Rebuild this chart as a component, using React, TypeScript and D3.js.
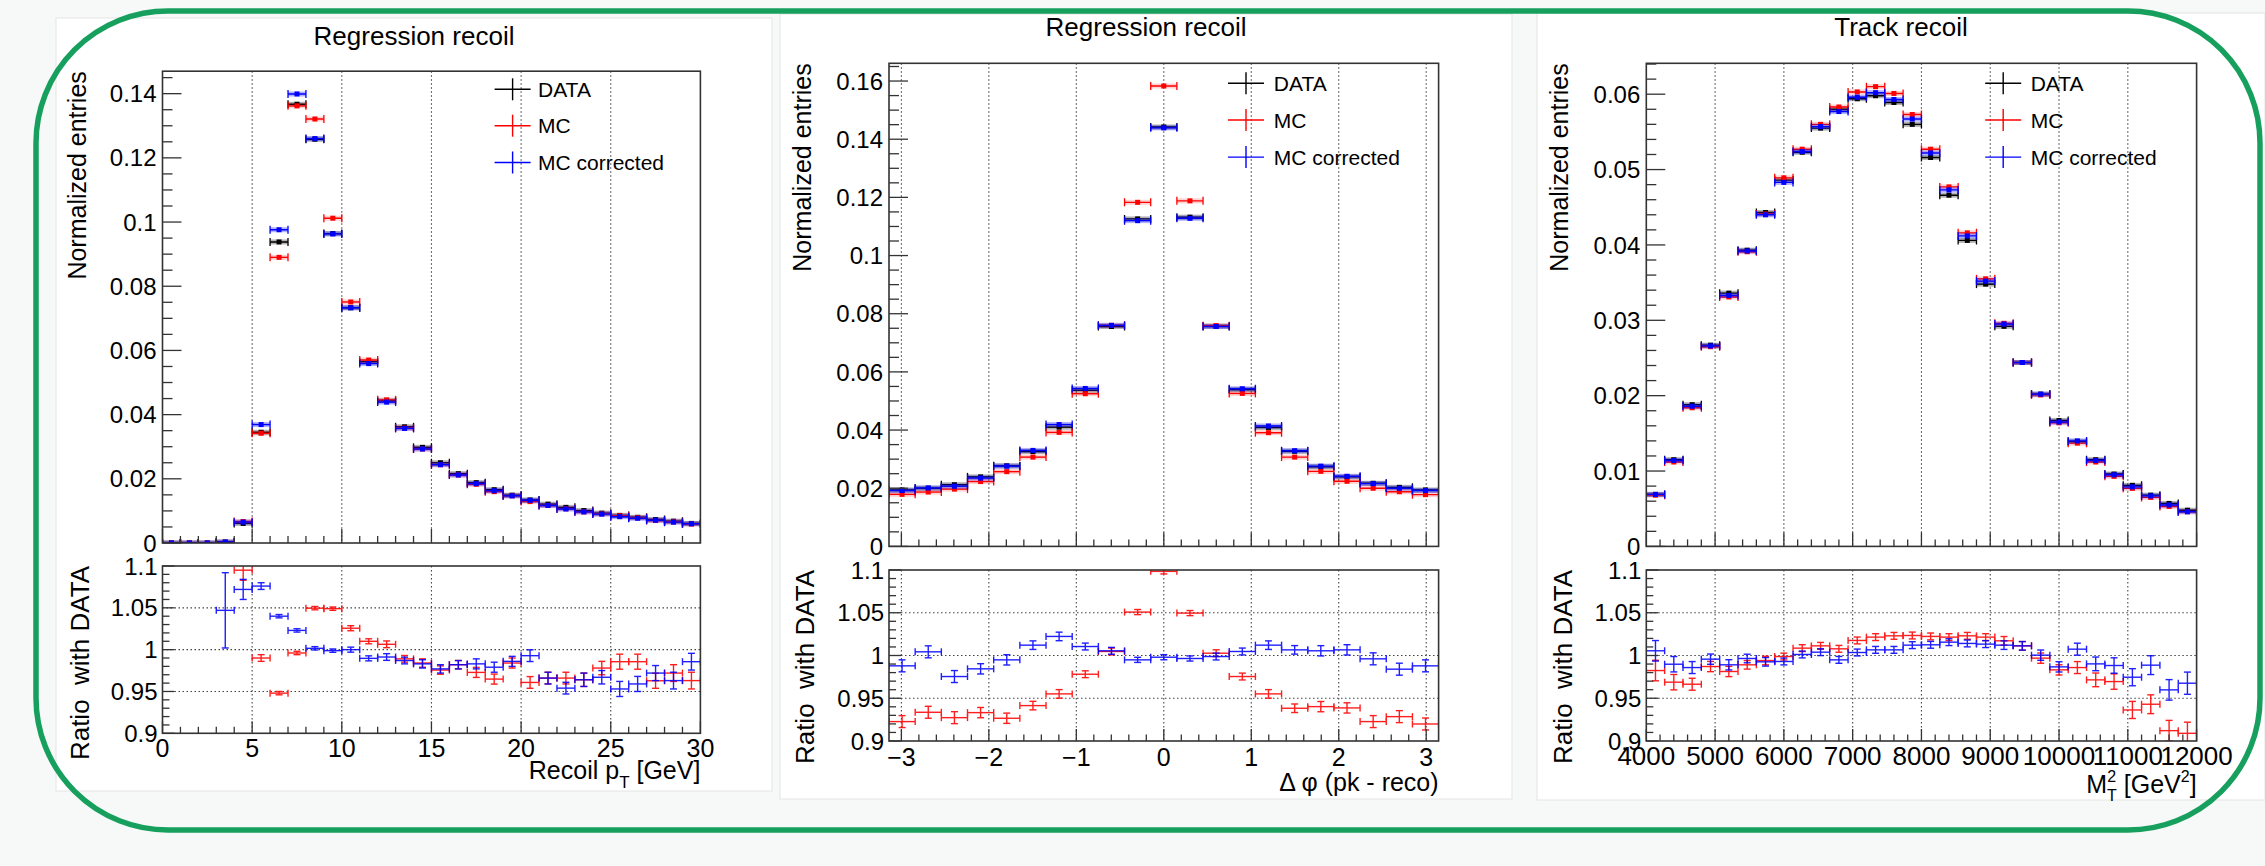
import React from 'react';
import * as d3 from 'd3';

const W = 2265;
const H = 866;
const FONT = "'Liberation Sans', Arimo, Arial, Helvetica, sans-serif";

// ---------------- Panel 1 : Regression recoil vs recoil pT ----------------
const p1Range = [0, 30];
const p1NBins = 30;
const p1XTicks = [0, 5, 10, 15, 20, 25, 30];
const p1XTickLabels = ['0', '5', '10', '15', '20', '25', '30'];
const p1YTicks = [0, 0.02, 0.04, 0.06, 0.08, 0.1, 0.12, 0.14];
const p1YTickLabels = ['0', '0.02', '0.04', '0.06', '0.08', '0.1', '0.12', '0.14'];
const p1Data = [0, 0, 0, 0.0003, 0.0061, 0.0345, 0.0938, 0.1367, 0.1258, 0.0964, 0.0733, 0.0565, 0.0443, 0.0362, 0.0298, 0.025, 0.0216, 0.0188, 0.0166, 0.0149, 0.0134, 0.0121, 0.0111, 0.0101, 0.0093, 0.0086, 0.008, 0.0073, 0.0068, 0.0061];
const p1MC = [0, 0, 0, 0.0002, 0.0067, 0.0342, 0.089, 0.1362, 0.1321, 0.1012, 0.0751, 0.057, 0.0446, 0.0358, 0.0293, 0.0244, 0.0212, 0.0183, 0.016, 0.0147, 0.0129, 0.0117, 0.0107, 0.0097, 0.0091, 0.0085, 0.0079, 0.007, 0.0066, 0.0059];
const p1Corr = [0, 0, 0, 0.0003, 0.0065, 0.0369, 0.0976, 0.1399, 0.126, 0.0963, 0.0733, 0.0559, 0.0439, 0.0357, 0.0293, 0.0244, 0.0212, 0.0185, 0.0163, 0.0147, 0.0133, 0.0117, 0.0106, 0.0097, 0.009, 0.0082, 0.0077, 0.0071, 0.0065, 0.006];
const p1RatioMC = [null, null, null, null, 1.095, 0.99, 0.948, 0.996, 1.0496, 1.049, 1.0256, 1.01, 1.0064, 0.989, 0.984, 0.9756, 0.982, 0.9728, 0.9648, 0.984, 0.9608, 0.966, 0.966, 0.964, 0.978, 0.9856, 0.9856, 0.9628, 0.972, 0.963];
const p1RatioCorr = [null, null, null, 1.047, 1.072, 1.076, 1.04, 1.023, 1.0016, 0.9988, 1.0, 0.9896, 0.9912, 0.987, 0.983, 0.977, 0.982, 0.983, 0.979, 0.986, 0.9928, 0.966, 0.954, 0.964, 0.967, 0.953, 0.959, 0.972, 0.963, 0.9856];
const p1RatioErr = [0, 0, 0, 0.045, 0.012, 0.004, 0.002, 0.002, 0.002, 0.002, 0.003, 0.003, 0.004, 0.004, 0.005, 0.005, 0.005, 0.006, 0.006, 0.006, 0.007, 0.007, 0.007, 0.008, 0.008, 0.009, 0.009, 0.009, 0.01, 0.01];

// ---------------- Panel 2 : Regression recoil vs delta phi ----------------
const p2Range = [-Math.PI, Math.PI];
const p2NBins = 21;
const p2XTicks = [-3, -2, -1, 0, 1, 2, 3];
const p2XTickLabels = ['\u22123', '\u22122', '\u22121', '0', '1', '2', '3'];
const p2YTicks = [0, 0.02, 0.04, 0.06, 0.08, 0.1, 0.12, 0.14, 0.16];
const p2YTickLabels = ['0', '0.02', '0.04', '0.06', '0.08', '0.1', '0.12', '0.14', '0.16'];
const p2Data = [0.0194, 0.02, 0.0212, 0.0239, 0.0277, 0.0326, 0.041, 0.0537, 0.0756, 0.1126, 0.1442, 0.1132, 0.0757, 0.0539, 0.0409, 0.0327, 0.0274, 0.0239, 0.0217, 0.0203, 0.0194];
const p2MC = [0.0179, 0.0187, 0.0197, 0.0223, 0.0257, 0.0307, 0.0392, 0.0525, 0.076, 0.1183, 0.1583, 0.1188, 0.0759, 0.0526, 0.0391, 0.0307, 0.0258, 0.0224, 0.02, 0.0188, 0.0178];
const p2Corr = [0.0192, 0.0201, 0.0207, 0.0235, 0.0276, 0.033, 0.0419, 0.0543, 0.076, 0.112, 0.1439, 0.1128, 0.0756, 0.0542, 0.0414, 0.0329, 0.0276, 0.0241, 0.0216, 0.02, 0.0192];
const p2RatioMC = [0.9227, 0.9336, 0.9273, 0.9332, 0.9266, 0.9414, 0.9551, 0.9781, 1.0047, 1.0508, 1.0984, 1.0496, 1.0027, 0.9754, 0.9551, 0.9383, 0.9402, 0.9387, 0.9227, 0.9285, 0.9199];
const p2RatioCorr = [0.9879, 1.0043, 0.9754, 0.9844, 0.9949, 1.0121, 1.0223, 1.0105, 1.0055, 0.9949, 0.998, 0.9965, 0.9988, 1.0047, 1.0121, 1.0066, 1.0055, 1.0066, 0.9961, 0.984, 0.9879];
const p2RatioErr = [0.007, 0.007, 0.007, 0.006, 0.006, 0.005, 0.005, 0.004, 0.004, 0.003, 0.003, 0.003, 0.004, 0.004, 0.005, 0.005, 0.006, 0.006, 0.007, 0.007, 0.007];

// ---------------- Panel 3 : Track recoil vs MT^2 ----------------
const p3Range = [4000, 12000];
const p3NBins = 30;
const p3XTicks = [4000, 5000, 6000, 7000, 8000, 9000, 10000, 11000, 12000];
const p3XTickLabels = ['4000', '5000', '6000', '7000', '8000', '9000', '10000', '11000', '12000'];
const p3YTicks = [0, 0.01, 0.02, 0.03, 0.04, 0.05, 0.06];
const p3YTickLabels = ['0', '0.01', '0.02', '0.03', '0.04', '0.05', '0.06'];
const p3Data = [0.0069, 0.0115, 0.0188, 0.0267, 0.0336, 0.0393, 0.0443, 0.0486, 0.0523, 0.0555, 0.058, 0.0594, 0.0598, 0.0589, 0.056, 0.0516, 0.0466, 0.0406, 0.0348, 0.0292, 0.0244, 0.0202, 0.0167, 0.0139, 0.0115, 0.0096, 0.0081, 0.0068, 0.0057, 0.0048];
const p3MC = [0.0068, 0.0112, 0.0184, 0.0265, 0.0331, 0.0391, 0.0441, 0.0489, 0.0527, 0.056, 0.0583, 0.0603, 0.061, 0.0601, 0.0573, 0.0527, 0.0477, 0.0416, 0.0355, 0.0296, 0.0244, 0.0201, 0.0164, 0.0137, 0.0112, 0.0093, 0.0077, 0.0065, 0.0053, 0.0046];
const p3Corr = [0.0069, 0.0114, 0.0186, 0.0266, 0.0333, 0.0392, 0.044, 0.0483, 0.0524, 0.0557, 0.0577, 0.0596, 0.0602, 0.0593, 0.0567, 0.0522, 0.0473, 0.0412, 0.0352, 0.0295, 0.0244, 0.0202, 0.0165, 0.014, 0.0114, 0.0095, 0.0079, 0.0067, 0.0055, 0.0046];
const p3RatioMC = [0.9824, 0.9688, 0.9664, 0.9871, 0.9813, 0.9891, 0.9941, 0.9988, 1.0086, 1.0113, 1.0078, 1.0176, 1.0215, 1.023, 1.0234, 1.0223, 1.0215, 1.023, 1.0215, 1.0172, 1.0113, 0.9969, 0.9832, 0.9859, 0.9715, 0.9695, 0.9363, 0.943, 0.9121, 0.909];
const p3RatioCorr = [1.0055, 0.9898, 0.9859, 0.9957, 0.9891, 0.9965, 0.9926, 0.993, 1.0012, 1.0039, 0.9949, 1.0035, 1.0066, 1.0066, 1.0121, 1.0125, 1.0156, 1.0141, 1.0133, 1.0121, 1.0113, 1.0004, 0.9867, 1.0074, 0.9902, 0.9883, 0.9746, 0.9887, 0.9598, 0.9676];
const p3RatioErr = [0.012, 0.009, 0.007, 0.006, 0.006, 0.005, 0.005, 0.004, 0.004, 0.004, 0.004, 0.004, 0.004, 0.004, 0.004, 0.004, 0.004, 0.004, 0.004, 0.005, 0.005, 0.006, 0.006, 0.007, 0.008, 0.009, 0.01, 0.011, 0.012, 0.013];

// ---------------- shared ----------------
const ratioTicks = [0.9, 0.95, 1, 1.05, 1.1];
const ratioTickLabels = ['0.9', '0.95', '1', '1.05', '1.1'];
const ratioGrid = [0.95, 1, 1.05];
const legendNames = ['DATA', 'MC', 'MC corrected'];
const seriesColors = ['#000000', '#ff0000', '#0000ff'];

const GREEN = '#17a05d';
const FRAME = '#333333';

function minorTicks(lo: number, hi: number, step: number) {
  const out: number[] = [];
  const s = Math.ceil(lo / step - 1e-9);
  const e = Math.floor(hi / step + 1e-9);
  for (let i = s; i <= e; i++) out.push(+(i * step).toFixed(6));
  return out;
}

const panels = [
  {
    id: 'p1', title: 'Regression recoil', bg: [56, 18, 772, 791],
    fx: [162.5, 700.4], uy: [71.2, 543], ry: [566, 733.3],
    xRange: p1Range, nBins: p1NBins, xTicks: p1XTicks, xLabels: p1XTickLabels, xMinor: 1, xLabelSize: 25,
    yMax: 0.147, yTicks: p1YTicks, yLabels: p1YTickLabels, yMinor: 0.005,
    series: [p1Data, p1MC, p1Corr], ratios: [p1RatioMC, p1RatioCorr], rErr: p1RatioErr,
    titleY: 44.5, yTitleX: 86, rTitleX: 89, xLabelY: 757, xTitleY: 779,
    legX: 512.6, legTextX: 538, legY: [89.3, 125.7, 162.5], xTitle: 'pt',
  },
  {
    id: 'p2', title: 'Regression recoil', bg: [780, 14, 1512, 799],
    fx: [889, 1438.6], uy: [63.3, 546.4], ry: [570, 741],
    xRange: p2Range, nBins: p2NBins, xTicks: p2XTicks, xLabels: p2XTickLabels, xMinor: 0.2, xLabelSize: 25,
    yMax: 0.1661, yTicks: p2YTicks, yLabels: p2YTickLabels, yMinor: 0.005,
    series: [p2Data, p2MC, p2Corr], ratios: [p2RatioMC, p2RatioCorr], rErr: p2RatioErr,
    titleY: 36, yTitleX: 811, rTitleX: 814, xLabelY: 766, xTitleY: 791,
    legX: 1246, legTextX: 1273.8, legY: [83.2, 120, 157.1], xTitle: 'phi',
  },
  {
    id: 'p3', title: 'Track recoil', bg: [1537, 13, 2265, 800],
    fx: [1646.3, 2196.6], uy: [63.3, 546.4], ry: [570, 741],
    xRange: p3Range, nBins: p3NBins, xTicks: p3XTicks, xLabels: p3XTickLabels, xMinor: 200, xLabelSize: 26,
    yMax: 0.0641, yTicks: p3YTicks, yLabels: p3YTickLabels, yMinor: 0.002,
    series: [p3Data, p3MC, p3Corr], ratios: [p3RatioMC, p3RatioCorr], rErr: p3RatioErr,
    titleY: 36, yTitleX: 1568, rTitleX: 1572, xLabelY: 765, xTitleY: 793,
    legX: 2003.2, legTextX: 2030.7, legY: [83.2, 120, 157.1], xTitle: 'mt2',
  },
];

function XTitle({ kind, x, y }: { kind: string; x: number; y: number }) {
  if (kind === 'pt') {
    return (
      <text x={x} y={y} textAnchor="end" fontSize={25} fontFamily={FONT} fill="#000">
        Recoil p<tspan fontSize={17} dy={9}>T</tspan><tspan dy={-9}> [GeV]</tspan>
      </text>
    );
  }
  if (kind === 'phi') {
    return (
      <text x={x} y={y} textAnchor="end" fontSize={25} fontFamily={FONT} fill="#000">
        {'\u0394 \u03c6 (pk - reco)'}
      </text>
    );
  }
  return (
    <text x={x} y={y} textAnchor="end" fontSize={25} fontFamily={FONT} fill="#000">
      M<tspan fontSize={16} dy={-11}>2</tspan><tspan fontSize={16} dx={-9} dy={19}>T</tspan>
      <tspan dy={-8}> [GeV</tspan><tspan fontSize={16} dy={-11}>2</tspan><tspan dy={11}>]</tspan>
    </text>
  );
}

function Panel({ s }: { s: any }) {
  const x = d3.scaleLinear().domain(s.xRange).range(s.fx);
  const yU = d3.scaleLinear().domain([0, s.yMax]).range([s.uy[1], s.uy[0]]);
  const yR = d3.scaleLinear().domain([0.9, 1.1]).range([s.ry[1], s.ry[0]]);
  const bw = (s.xRange[1] - s.xRange[0]) / s.nBins;
  const binLo = (i: number) => s.xRange[0] + i * bw;
  const binHi = (i: number) => s.xRange[0] + (i + 1) * bw;
  const binC = (i: number) => s.xRange[0] + (i + 0.5) * bw;
  const xMin = minorTicks(s.xRange[0], s.xRange[1], s.xMinor);
  const yMinU = minorTicks(0, s.yMax, s.yMinor);
  const yMinR = minorTicks(0.9, 1.1, 0.01);
  const gridX = s.xTicks.filter((t: number) => t > s.xRange[0] + 1e-6 && t < s.xRange[1] - 1e-6);
  const [fx0, fx1] = s.fx;
  const tk = { stroke: FRAME, strokeWidth: 1.3 };
  const dotted = { stroke: '#444', strokeWidth: 1.1, strokeDasharray: '1.5 2.5' };

  return (
    <g>
      <rect x={s.bg[0]} y={s.bg[1]} width={s.bg[2] - s.bg[0]} height={s.bg[3] - s.bg[1]} fill="#ffffff" stroke="#e4e4e4" strokeWidth={1} />
      <defs>
        <clipPath id={`${s.id}-cu`}><rect x={fx0} y={s.uy[0]} width={fx1 - fx0} height={s.uy[1] - s.uy[0]} /></clipPath>
        <clipPath id={`${s.id}-cr`}><rect x={fx0} y={s.ry[0]} width={fx1 - fx0} height={s.ry[1] - s.ry[0]} /></clipPath>
      </defs>
      <text x={(s.bg[0] + s.bg[2]) / 2} y={s.titleY} textAnchor="middle" fontSize={26} fontFamily={FONT}>{s.title}</text>

      {/* ---------- upper pad ---------- */}
      {gridX.map((t: number) => <line key={`gu${t}`} x1={x(t)} x2={x(t)} y1={s.uy[0]} y2={s.uy[1]} {...dotted} />)}
      <g clipPath={`url(#${s.id}-cu)`}>
        {s.series.map((vals: number[], k: number) => (
          <g key={`s${k}`}>
            {vals.map((v: number, i: number) => {
              const xa = x(binLo(i)), xb = x(binHi(i)), xc = x(binC(i)), yy = yU(v);
              const c = seriesColors[k];
              return (
                <g key={i}>
                  <rect x={xa} y={yy - 2.5} width={xb - xa} height={5} fill={c} opacity={k === 1 ? 0.18 : 0.3} />
                  <line x1={xa} x2={xb} y1={yy} y2={yy} stroke={c} strokeWidth={1.4} />
                  <line x1={xa} x2={xa} y1={yy - 4} y2={yy + 4} stroke={c} strokeWidth={1.3} />
                  <line x1={xb} x2={xb} y1={yy - 4} y2={yy + 4} stroke={c} strokeWidth={1.3} />
                  <rect x={xc - 2.5} y={yy - 2.5} width={5} height={5} fill={c} />
                </g>
              );
            })}
          </g>
        ))}
      </g>
      <rect x={fx0} y={s.uy[0]} width={fx1 - fx0} height={s.uy[1] - s.uy[0]} fill="none" stroke={FRAME} strokeWidth={1.6} />
      {yMinU.map((t: number) => {
        const major = s.yTicks.some((m: number) => Math.abs(m - t) < 1e-7);
        return <line key={`yu${t}`} x1={fx0} x2={fx0 + (major ? 19 : 10)} y1={yU(t)} y2={yU(t)} {...tk} />;
      })}
      {xMin.map((t: number) => {
        const major = s.xTicks.some((m: number) => Math.abs(m - t) < 1e-6);
        return <line key={`xu${t}`} x1={x(t)} x2={x(t)} y1={s.uy[1]} y2={s.uy[1] - (major ? 14 : 7)} {...tk} />;
      })}
      {s.yTicks.map((t: number, i: number) => (
        <text key={`yl${t}`} x={fx0 - 6} y={yU(t)} dy="0.36em" textAnchor="end" fontSize={24} fontFamily={FONT}>{s.yLabels[i]}</text>
      ))}
      <text transform={`translate(${s.yTitleX},${s.uy[0]}) rotate(-90)`} textAnchor="end" fontSize={25} fontFamily={FONT}>Normalized entries</text>

      {/* legend */}
      {legendNames.map((name, k) => (
        <g key={name}>
          <line x1={s.legX - 18} x2={s.legX + 18} y1={s.legY[k]} y2={s.legY[k]} stroke={seriesColors[k]} strokeWidth={1.4} />
          <line x1={s.legX} x2={s.legX} y1={s.legY[k] - 11} y2={s.legY[k] + 11} stroke={seriesColors[k]} strokeWidth={1.4} />
          <text x={s.legTextX} y={s.legY[k]} dy="0.36em" fontSize={21} fontFamily={FONT}>{name}</text>
        </g>
      ))}

      {/* ---------- ratio pad ---------- */}
      {gridX.map((t: number) => <line key={`gr${t}`} x1={x(t)} x2={x(t)} y1={s.ry[0]} y2={s.ry[1]} {...dotted} />)}
      {ratioGrid.map((t) => <line key={`gh${t}`} x1={fx0} x2={fx1} y1={yR(t)} y2={yR(t)} {...dotted} />)}
      <g clipPath={`url(#${s.id}-cr)`}>
        {s.ratios.map((vals: (number | null)[], k: number) => (
          <g key={`r${k}`} opacity={0.88}>
            {vals.map((v: number | null, i: number) => {
              if (v === null) return null;
              const c = seriesColors[k + 1];
              const xa = x(binLo(i)), xb = x(binHi(i)), xc = x(binC(i)), yy = yR(v);
              const e = s.rErr[i];
              const yt = yR(v + e), yb = yR(v - e);
              return (
                <g key={i} stroke={c} strokeWidth={1.4}>
                  <line x1={xa} x2={xb} y1={yy} y2={yy} />
                  <line x1={xa} x2={xa} y1={yy - 3.5} y2={yy + 3.5} />
                  <line x1={xb} x2={xb} y1={yy - 3.5} y2={yy + 3.5} />
                  <line x1={xc} x2={xc} y1={yt} y2={yb} />
                  <line x1={xc - 3.5} x2={xc + 3.5} y1={yt} y2={yt} />
                  <line x1={xc - 3.5} x2={xc + 3.5} y1={yb} y2={yb} />
                </g>
              );
            })}
          </g>
        ))}
      </g>
      <rect x={fx0} y={s.ry[0]} width={fx1 - fx0} height={s.ry[1] - s.ry[0]} fill="none" stroke={FRAME} strokeWidth={1.6} />
      {yMinR.map((t: number) => {
        const major = ratioTicks.some((m) => Math.abs(m - t) < 1e-7);
        return <line key={`yr${t}`} x1={fx0} x2={fx0 + (major ? 12 : 7)} y1={yR(t)} y2={yR(t)} {...tk} />;
      })}
      {xMin.map((t: number) => {
        const major = s.xTicks.some((m: number) => Math.abs(m - t) < 1e-6);
        return <line key={`xr${t}`} x1={x(t)} x2={x(t)} y1={s.ry[1]} y2={s.ry[1] - (major ? 12 : 6.5)} {...tk} />;
      })}
      {ratioTicks.map((t, i) => (
        <text key={`rl${t}`} x={fx0 - 5} y={yR(t)} dy="0.36em" textAnchor="end" fontSize={24} fontFamily={FONT}>{ratioTickLabels[i]}</text>
      ))}
      {s.xTicks.map((t: number, i: number) => (
        <text key={`xl${t}`} x={x(t)} y={s.xLabelY} textAnchor="middle" fontSize={s.xLabelSize} fontFamily={FONT}>{s.xLabels[i]}</text>
      ))}
      <text transform={`translate(${s.rTitleX},${s.ry[0]}) rotate(-90)`} textAnchor="end" fontSize={26} fontFamily={FONT} style={{ whiteSpace: 'pre' }}>{'Ratio  with DATA'}</text>
      <XTitle kind={s.xTitle} x={fx1} y={s.xTitleY} />
    </g>
  );
}

export default function App() {
  return (
    <svg width={W} height={H} viewBox={`0 0 ${W} ${H}`} style={{ position: 'absolute', left: 0, top: 0, display: 'block' }} fontFamily={FONT}>
      <rect x={0} y={0} width={W} height={H} fill="#f7f8f8" />
      {panels.map((p) => <Panel key={p.id} s={p} />)}
      <rect x={36} y={11} width={2224} height={819} rx={132} ry={132} fill="none" stroke={GREEN} strokeWidth={5.5} />
    </svg>
  );
}
